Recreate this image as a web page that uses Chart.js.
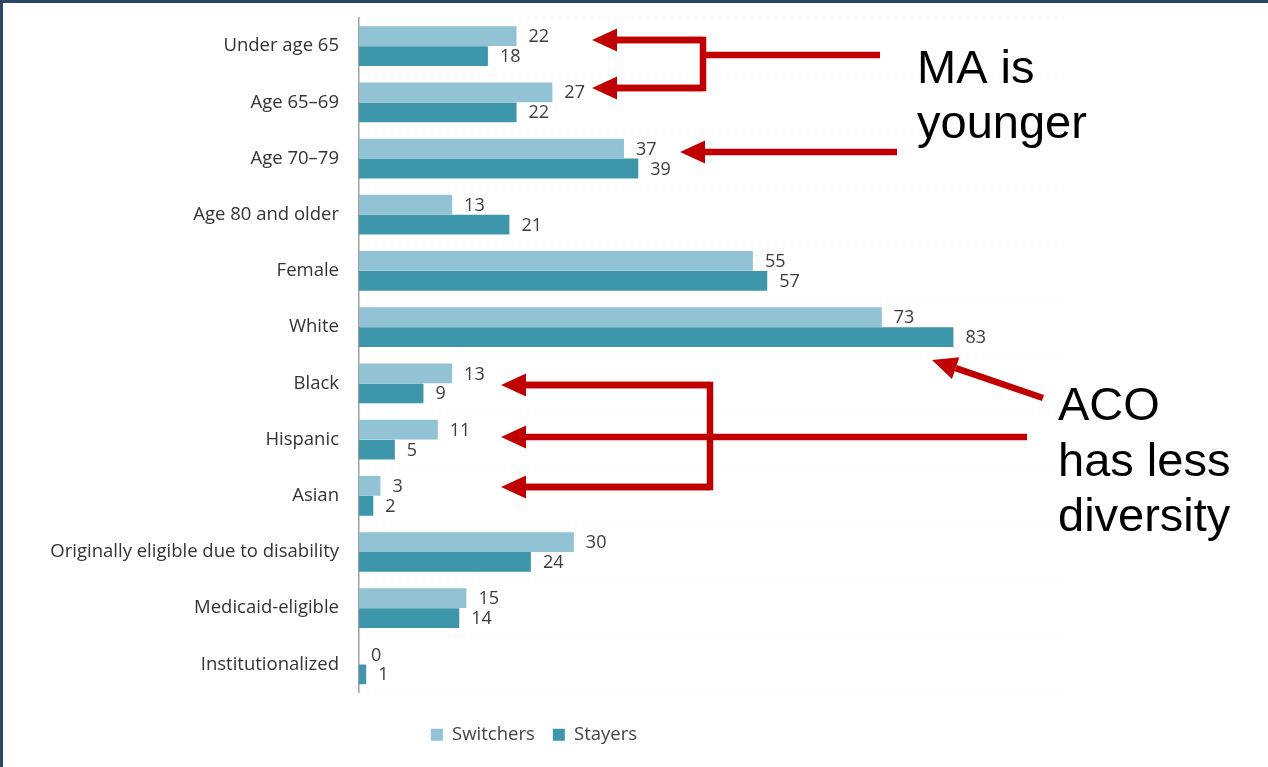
<!DOCTYPE html>
<html>
<head>
<meta charset="utf-8">
<script src="https://cdn.jsdelivr.net/npm/chart.js@4/dist/chart.umd.min.js"></script>
<style>
  html, body { margin: 0; padding: 0; background: #fff; overflow: hidden; }
  #wrap { position: relative; width: 1268px; height: 767px; }
  #frame { position: absolute; left: 0; top: 0; width: 1268px; height: 767px; box-sizing: border-box;
           border-top: 3px solid #2c4669; border-left: 3px solid #2c4669; pointer-events: none; }
</style>
</head>
<body>
<div id="wrap">
  <canvas id="c" width="1268" height="767"></canvas>
  <div id="frame"></div>
</div>
<script>
// Beneficiary characteristics, percent of each group
const categories = ['Under age 65', 'Age 65–69', 'Age 70–79', 'Age 80 and older', 'Female', 'White',
                    'Black', 'Hispanic', 'Asian', 'Originally eligible due to disability',
                    'Medicaid-eligible', 'Institutionalized'];
const switchers = [22, 27, 37, 13, 55, 73, 13, 11, 3, 30, 15, 0];
const stayers   = [18, 22, 39, 21, 57, 83, 9, 5, 2, 24, 14, 1];
const seriesNames = ['Switchers', 'Stayers'];

const LIGHT = '#92c3d4';
const DARK = '#3e96ab';
const RED = '#c00000';
const FONT = '"Open Sans", Lato, sans-serif';

// Value labels at the end of each bar
const valueLabels = {
  id: 'valueLabels',
  afterDatasetsDraw(chart) {
    const ctx = chart.ctx;
    ctx.save();
    ctx.font = '18px ' + FONT;
    ctx.fillStyle = '#3c3c3c';
    ctx.textAlign = 'left';
    ctx.textBaseline = 'middle';
    chart.data.datasets.forEach((ds, di) => {
      chart.getDatasetMeta(di).data.forEach((bar, i) => {
        ctx.fillText(String(ds.data[i]), bar.x + 12, bar.y + 1);
      });
    });
    ctx.restore();
  }
};

// Red call-out arrows and notes
function arrowHead(ctx, tipX, tipY, fromX, fromY, len, half) {
  const a = Math.atan2(tipY - fromY, tipX - fromX);
  const bx = tipX - len * Math.cos(a), by = tipY - len * Math.sin(a);
  ctx.beginPath();
  ctx.moveTo(tipX, tipY);
  ctx.lineTo(bx + half * Math.sin(a), by - half * Math.cos(a));
  ctx.lineTo(bx - half * Math.sin(a), by + half * Math.cos(a));
  ctx.closePath();
  ctx.fill();
  return [bx, by];
}
function arrow(ctx, fromX, fromY, tipX, tipY) {
  const [bx, by] = arrowHead(ctx, tipX, tipY, fromX, fromY, 25, 11.5);
  ctx.beginPath();
  ctx.moveTo(fromX, fromY);
  ctx.lineTo(bx, by);
  ctx.stroke();
}
function poly(ctx, pts) {
  ctx.beginPath();
  ctx.moveTo(pts[0][0], pts[0][1]);
  for (let k = 1; k < pts.length; k++) ctx.lineTo(pts[k][0], pts[k][1]);
  ctx.stroke();
}

const callouts = {
  id: 'callouts',
  afterDraw(chart) {
    const ctx = chart.ctx;
    ctx.save();
    ctx.strokeStyle = RED;
    ctx.fillStyle = RED;
    ctx.lineWidth = 6.5;
    ctx.lineCap = 'butt';
    ctx.lineJoin = 'miter';

    // age bracket
    poly(ctx, [[610, 40], [703, 40], [703, 88], [610, 88]]);
    arrow(ctx, 703, 40, 592, 40);
    arrow(ctx, 703, 88, 592, 88);
    poly(ctx, [[703, 55], [880, 55]]);
    arrow(ctx, 897, 152, 680, 152);

    // race bracket
    poly(ctx, [[515, 385], [710, 385], [710, 487], [515, 487]]);
    arrow(ctx, 710, 385, 501, 385);
    arrow(ctx, 710, 487, 501, 487);
    arrow(ctx, 1027, 437, 501, 437);
    arrow(ctx, 1043, 398, 932, 360);

    ctx.fillStyle = '#000';
    ctx.font = '47px "Liberation Sans", Arial, sans-serif';
    ctx.textAlign = 'left';
    ctx.textBaseline = 'alphabetic';
    ctx.fillText('MA is', 917, 83);
    ctx.fillText('younger', 917, 138);
    ctx.fillText('ACO', 1058, 420);
    ctx.fillText('has less', 1058, 476);
    ctx.fillText('diversity', 1058, 531);
    ctx.restore();
  }
};

new Chart(document.getElementById('c'), {
  type: 'bar',
  data: {
    labels: categories,
    datasets: [
      { label: seriesNames[0], data: switchers, backgroundColor: LIGHT, borderWidth: 0 },
      { label: seriesNames[1], data: stayers, backgroundColor: DARK, borderWidth: 0 }
    ]
  },
  options: {
    indexAxis: 'y',
    responsive: false,
    animation: false,
    devicePixelRatio: 1,
    categoryPercentage: 0.71,
    barPercentage: 0.99,
    layout: { padding: { left: 0, right: 200, top: 18, bottom: 13 } },
    scales: {
      x: {
        min: 0, max: 99,
        ticks: { display: false },
        grid: { display: false },
        border: { display: false },
        afterFit(scale) { scale.height = 15; }
      },
      y: {
        grid: { display: true, color: '#e8e8e8', drawTicks: true, tickLength: 20, tickColor: 'rgba(0,0,0,0)' },
        border: { display: true, color: '#a0a0a0', width: 1.5, dash: [1, 7] },
        ticks: { color: '#333', padding: 0, font: { family: FONT, size: 18.5 } },
        afterFit(scale) { scale.width = 359; }
      }
    },
    plugins: {
      legend: {
        position: 'bottom',
        labels: {
          color: '#444',
          boxWidth: 12, boxHeight: 12,
          padding: 18,
          font: { family: FONT, size: 18.5 }
        }
      },
      tooltip: { enabled: false }
    }
  },
  plugins: [valueLabels, callouts]
});
</script>
</body>
</html>
